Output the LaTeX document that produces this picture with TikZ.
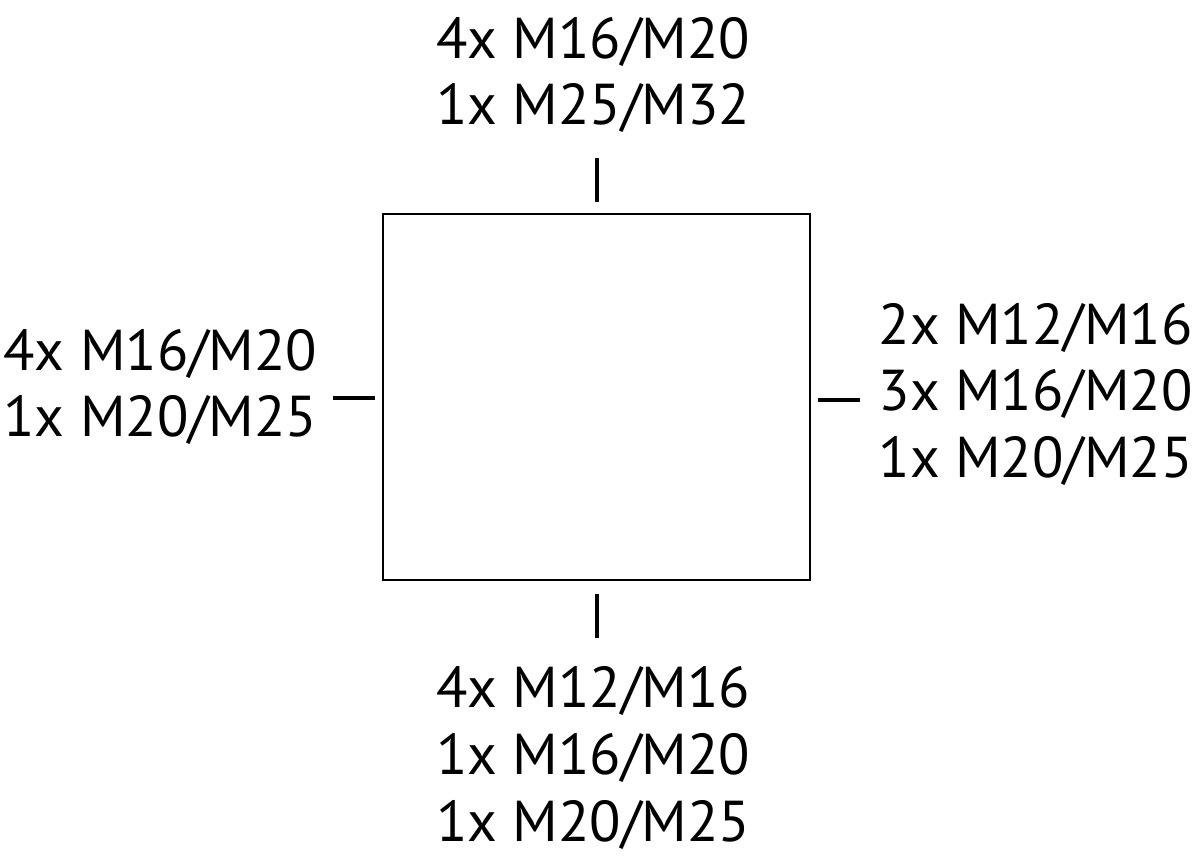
\documentclass[tikz,border=0pt]{standalone}
\usepackage{fontspec}
\setmainfont{PT Sans}
\tikzset{
  gland/.style={inner sep=0pt, align=center, font=\fontsize{16.4}{19}\selectfont},
  tick/.style={line width=0.9pt}
}
\begin{document}
\begin{tikzpicture}
  \useasboundingbox (0,0) rectangle (12,8.56);
  \draw[line width=0.75pt] (3.83,2.76) rectangle (8.10,6.42);
  % cable entries, one label per side
  \node[gland] (top) at (5.93,7.81) {4x M16/M20\\1x M25/M32};
  \node[gland, align=left, anchor=east] (left) at (3.18,4.69) {4x M16/M20\\1x M20/M25};
  \node[gland, align=left, anchor=west] (right) at (8.78,4.615) {2x M12/M16\\3x M16/M20\\1x M20/M25};
  \node[gland] (bottom) at (5.93,0.98) {4x M12/M16\\1x M16/M20\\1x M20/M25};
  \coordinate (ta) at (5.97,6.98);
  \coordinate (tb) at (5.97,6.54);
  \coordinate (ba) at (5.97,2.62);
  \coordinate (bb) at (5.97,2.18);
  \coordinate (la) at (3.33,4.58);
  \coordinate (lb) at (3.75,4.58);
  \coordinate (ra) at (8.18,4.56);
  \coordinate (rb) at (8.60,4.56);
  \begin{scope}[tick]
    \draw (ta) -- (tb);
    \draw (ba) -- (bb);
    \draw (la) -- (lb);
    \draw (ra) -- (rb);
  \end{scope}
\end{tikzpicture}
\end{document}
